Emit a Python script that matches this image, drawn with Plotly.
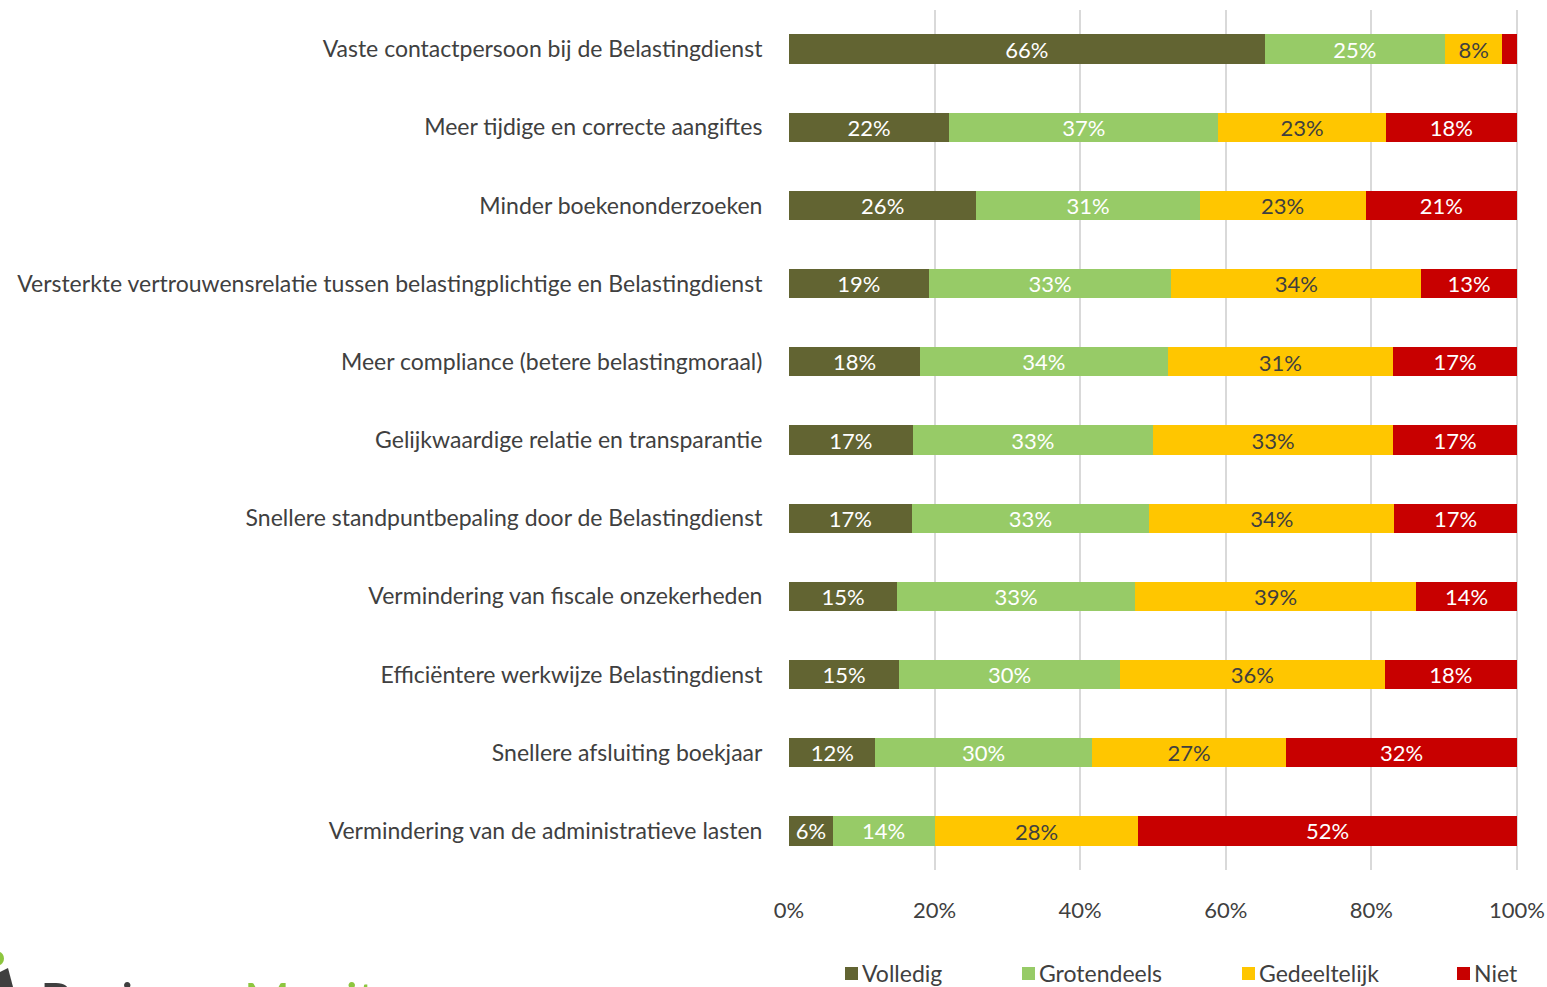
import plotly.graph_objects as go

categories = [
    "Vaste contactpersoon bij de Belastingdienst",
    "Meer tijdige en correcte aangiftes",
    "Minder boekenonderzoeken",
    "Versterkte vertrouwensrelatie tussen belastingplichtige en Belastingdienst",
    "Meer compliance (betere belastingmoraal)",
    "Gelijkwaardige relatie en transparantie",
    "Snellere standpuntbepaling door de Belastingdienst",
    "Vermindering van fiscale onzekerheden",
    "Efficiëntere werkwijze Belastingdienst",
    "Snellere afsluiting boekjaar",
    "Vermindering van de administratieve lasten",
]

volledig     = [66, 22, 26, 19, 18, 17, 17, 15, 15, 12, 6]
grotendeels  = [25, 37, 31, 33, 34, 33, 33, 33, 30, 30, 14]
gedeeltelijk = [8, 23, 23, 34, 31, 33, 34, 39, 36, 27, 28]
niet         = [2, 18, 21, 13, 17, 17, 17, 14, 18, 32, 52]
niet_shown   = [False, True, True, True, True, True, True, True, True, True, True]

tick_vals = [0, 20, 40, 60, 80, 100]
tick_text = ["0%", "20%", "40%", "60%", "80%", "100%"]

series = [
    ("Volledig", volledig, "#626432", "white", 22, [True] * 11),
    ("Grotendeels", grotendeels, "#97cb67", "white", 22, [True] * 11),
    ("Gedeeltelijk", gedeeltelijk, "#ffc600", "#3f3f3f", 24, [True] * 11),
    ("Niet", niet, "#c80000", "white", 22, niet_shown),
]

FONT = "Lato"
W, H = 1547, 987
ML, MT = 789, 10
MR = W - 1518
MB = H - 870
PW, PH = W - ML - MR, H - MT - MB


def px_x(p):
    return (p - ML) / PW


def px_y(p):
    return (H - MB - p) / PH


fig = go.Figure()
for name, vals, color, tcol, tsize, shown in series:
    fig.add_trace(go.Bar(
        name=name, y=categories, x=vals, orientation="h",
        marker=dict(color=color, line=dict(width=0)),
        text=[f"{v}%" if s else "" for v, s in zip(vals, shown)],
        textposition="inside", insidetextanchor="middle", textangle=0,
        constraintext="none",
        textfont=dict(family=FONT, size=tsize, color=tcol),
        hoverinfo="skip", showlegend=False,
    ))

fig.update_layout(
    width=W, height=H,
    barmode="stack", barnorm="percent", bargap=0.625,
    plot_bgcolor="white", paper_bgcolor="white",
    margin=dict(l=ML, r=MR, t=MT, b=MB, autoexpand=False),
    font=dict(family=FONT, color="#404040"),
    uniformtext=dict(minsize=21, mode="show"),
    showlegend=False,
    xaxis=dict(
        range=[0, 100.15], tickvals=tick_vals, ticktext=tick_text,
        showgrid=True, gridcolor="#d9d9d9", gridwidth=2,
        zeroline=False, showline=False, automargin=False,
        ticklabeloverflow="allow",
        tickfont=dict(family=FONT, size=22, color="#404040"),
        ticks="outside", ticklen=21, tickcolor="white",
    ),
    yaxis=dict(
        autorange="reversed", showgrid=False, zeroline=False, showline=False,
        automargin=False,
        tickfont=dict(family=FONT, size=23, color="#404040"),
        ticks="outside", ticklen=21, tickcolor="white",
    ),
)

# manual legend (real text)
legend_pos = [845, 1022, 1242, 1457]
for (name, vals, color, tcol, tsize, shown), lx in zip(series, legend_pos):
    fig.add_shape(type="rect", xref="paper", yref="paper",
                  x0=px_x(lx), x1=px_x(lx + 13), y0=px_y(980), y1=px_y(967),
                  fillcolor=color, line=dict(width=0))
    fig.add_annotation(xref="paper", yref="paper", x=px_x(lx + 15), y=px_y(973),
                       xanchor="left", yanchor="middle", text=name, showarrow=False,
                       font=dict(family=FONT, size=23, color="#404040"))

# partially visible logo at the bottom-left
fig.add_shape(type="circle", xref="paper", yref="paper",
              x0=px_x(-6), x1=px_x(4), y0=px_y(965), y1=px_y(952),
              fillcolor="#8dc63f", line=dict(width=0))
fig.add_shape(type="path", xref="paper", yref="paper",
              path=f"M {px_x(0)},{px_y(972)} L {px_x(8)},{px_y(968)} L {px_x(13)},{px_y(987)} L {px_x(0)},{px_y(987)} Z",
              fillcolor="#3f3f3f", line=dict(width=0))
fig.add_annotation(
    xref="paper", yref="paper", x=px_x(38), y=px_y(968), xanchor="left", yanchor="top",
    text="Business <span style='color:#8dc63f'>Monitor</span>", showarrow=False,
    font=dict(family=FONT, size=50, color="#3f3f3f"),
)

fig.write_html("out.html", config={"displayModeBar": False},
               post_script="document.body.style.margin='0';")
